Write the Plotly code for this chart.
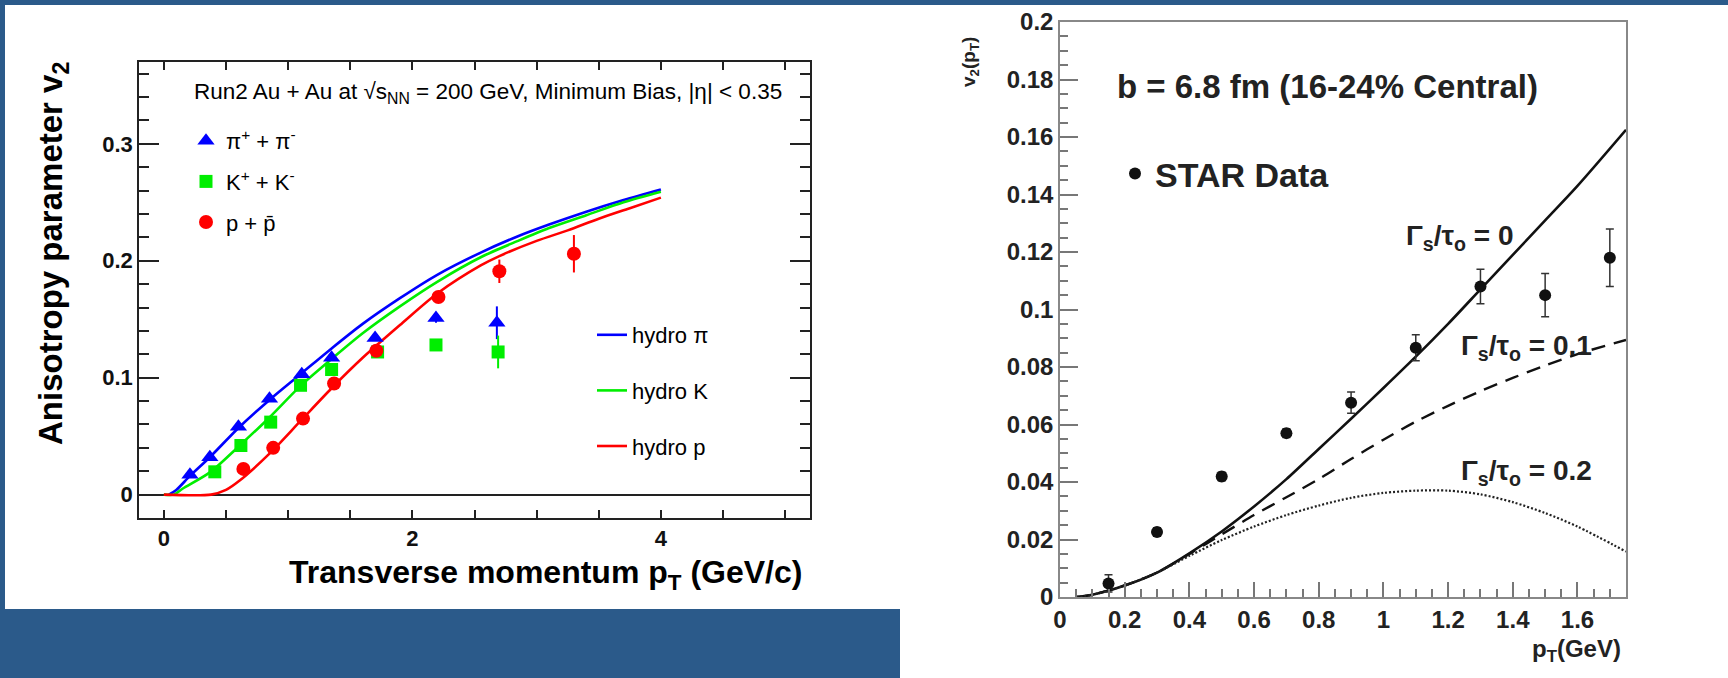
import plotly.graph_objects as go

W, H = 1728, 678
def px(x): return x / W
def py(y): return 1 - y / H

FONT = "Liberation Sans, Arial, Helvetica, sans-serif"

# ---------------- Left panel data (v2 vs pT, Run2 Au+Au) ----------------
pi_pt = [0.21, 0.37, 0.60, 0.85, 1.11, 1.35, 1.70, 2.19, 2.68]
pi_v2 = [0.017, 0.032, 0.058, 0.082, 0.103, 0.117, 0.134, 0.151, 0.147]
pi_err = [0.001, 0.001, 0.001, 0.001, 0.001, 0.002, 0.002, 0.004, 0.014]

k_pt = [0.41, 0.62, 0.86, 1.10, 1.35, 1.72, 2.19, 2.69]
k_v2 = [0.0195, 0.042, 0.062, 0.0935, 0.107, 0.122, 0.128, 0.122]
k_err = [0.001, 0.001, 0.001, 0.002, 0.002, 0.003, 0.004, 0.014]

p_pt = [0.64, 0.88, 1.12, 1.37, 1.71, 2.21, 2.70, 3.30]
p_v2 = [0.022, 0.040, 0.065, 0.095, 0.123, 0.169, 0.191, 0.206]
p_err = [0.001, 0.001, 0.002, 0.002, 0.003, 0.005, 0.010, 0.016]

hydro_pi_pt = [0.04, 0.10, 0.21, 0.37, 0.60, 0.85, 1.10, 1.35, 1.60, 1.90, 2.20, 2.55, 2.85, 3.10, 3.40, 3.70, 4.00]
hydro_pi_v2 = [0.0, 0.004, 0.016, 0.032, 0.057, 0.081, 0.103, 0.125, 0.146, 0.168, 0.188, 0.207, 0.221, 0.231, 0.242, 0.252, 0.261]

hydro_k_pt = [0.0, 0.08, 0.15, 0.37, 0.60, 0.85, 1.10, 1.35, 1.60, 1.90, 2.20, 2.55, 2.85, 3.10, 3.40, 3.70, 4.00]
hydro_k_v2 = [0.0, 0.0, 0.005, 0.019, 0.041, 0.066, 0.093, 0.116, 0.138, 0.161, 0.182, 0.203, 0.217, 0.228, 0.239, 0.250, 0.259]

hydro_p_pt = [0.0, 0.38, 0.50, 0.61, 0.85, 1.10, 1.35, 1.60, 1.90, 2.20, 2.55, 2.70, 3.00, 3.25, 3.50, 3.75, 4.00]
hydro_p_v2 = [0.0, 0.0, 0.004, 0.012, 0.035, 0.063, 0.091, 0.117, 0.145, 0.172, 0.196, 0.204, 0.217, 0.226, 0.236, 0.245, 0.254]

left_xticks = [0, 0.5, 1, 1.5, 2, 2.5, 3, 3.5, 4, 4.5, 5]
left_xlabels = ["0", "", "", "", "2", "", "", "", "4", "", ""]
left_yticks = [0, 0.1, 0.2, 0.3]
left_ylabels = ["0", "0.1", "0.2", "0.3"]

# ---------------- Right panel data (STAR, b = 6.8 fm) ----------------
star_pt = [0.15, 0.30, 0.50, 0.70, 0.90, 1.10, 1.30, 1.50, 1.70]
star_v2 = [0.0047, 0.0226, 0.0419, 0.057, 0.0676, 0.0867, 0.108, 0.105, 0.118]
star_err = [0.003, 0.0015, 0.0015, 0.0015, 0.0037, 0.0045, 0.006, 0.0075, 0.010]

curve_pt = [0.05, 0.10, 0.20, 0.30, 0.40, 0.50, 0.60, 0.70, 0.80, 0.90, 1.00, 1.10, 1.20, 1.30, 1.40, 1.50, 1.60, 1.75]
v2_g0 = [0.0, 0.0008, 0.004, 0.0085, 0.0152, 0.0228, 0.0315, 0.041, 0.0515, 0.062, 0.0727, 0.0836, 0.095, 0.107, 0.119, 0.131, 0.143, 0.1625]
v2_g01 = [0.0, 0.0008, 0.004, 0.0085, 0.015, 0.0218, 0.0285, 0.0347, 0.041, 0.048, 0.0547, 0.061, 0.0665, 0.0716, 0.0762, 0.0805, 0.0845, 0.0894]
v2_g02 = [0.0, 0.0008, 0.004, 0.0085, 0.0143, 0.0198, 0.0245, 0.0285, 0.0318, 0.0345, 0.0362, 0.037, 0.037, 0.0357, 0.033, 0.0292, 0.0245, 0.0158]

right_xticks = [0, 0.2, 0.4, 0.6, 0.8, 1.0, 1.2, 1.4, 1.6]
right_xlabels = ["0", "0.2", "0.4", "0.6", "0.8", "1", "1.2", "1.4", "1.6"]
right_yticks = [0, 0.02, 0.04, 0.06, 0.08, 0.10, 0.12, 0.14, 0.16, 0.18, 0.20]
right_ylabels = ["0", "0.02", "0.04", "0.06", "0.08", "0.1", "0.12", "0.14", "0.16", "0.18", "0.2"]

BLUE, GREEN, RED = "#0000ff", "#00ee00", "#ff0000"

def bold(labels):
    return ["<b>%s</b>" % t if t else "" for t in labels]

fig = go.Figure()

# hydro curves
for xs, ys, col, name in [(hydro_pi_pt, hydro_pi_v2, BLUE, "hydro π"),
                          (hydro_k_pt, hydro_k_v2, GREEN, "hydro K"),
                          (hydro_p_pt, hydro_p_v2, RED, "hydro p")]:
    fig.add_trace(go.Scatter(x=xs, y=ys, mode="lines", line=dict(color=col, width=2.6, shape="spline", smoothing=0.8),
                             name=name, legend="legend2", legendgroup=name, xaxis="x", yaxis="y"))

# data markers
for xs, ys, es, col, sym, sz, name in [
        (pi_pt, pi_v2, pi_err, BLUE, "triangle-up", 15, "π<sup>+</sup> + π<sup>-</sup>"),
        (k_pt, k_v2, k_err, GREEN, "square", 13, "K<sup>+</sup> + K<sup>-</sup>"),
        (p_pt, p_v2, p_err, RED, "circle", 14, "p + p\u0304")]:
    fig.add_trace(go.Scatter(x=xs, y=ys, mode="markers",
                             marker=dict(color=col, symbol=sym, size=sz, line=dict(width=0)),
                             error_y=dict(type="data", array=es, color=col, thickness=2, width=0),
                             name=name, legend="legend", legendgroup=name, xaxis="x", yaxis="y"))

# right panel curves
fig.add_trace(go.Scatter(x=curve_pt, y=v2_g0, mode="lines", line=dict(color="#111", width=2.6, shape="spline", smoothing=0.8),
                         showlegend=False, xaxis="x2", yaxis="y2"))
fig.add_trace(go.Scatter(x=curve_pt, y=v2_g01, mode="lines", line=dict(color="#111", width=2.4, dash="14px,9px", shape="spline", smoothing=0.8),
                         showlegend=False, xaxis="x2", yaxis="y2"))
fig.add_trace(go.Scatter(x=curve_pt, y=v2_g02, mode="lines", line=dict(color="#222", width=2.2, dash="2px,2px", shape="spline", smoothing=0.8),
                         showlegend=False, xaxis="x2", yaxis="y2"))
fig.add_trace(go.Scatter(x=star_pt, y=star_v2, mode="markers",
                         marker=dict(color="#111", size=12),
                         error_y=dict(type="data", array=star_err, color="#333", thickness=1.5, width=4),
                         name="<b>STAR Data</b>", legend="legend3", xaxis="x2", yaxis="y2"))

tickfont_l = dict(family=FONT, size=22, color="#111")
tickfont_r = dict(family=FONT, size=24, color="#222")

def ann(text, x, y, size, color="black", angle=0):
    return dict(text=text, x=px(x), y=py(y), xref="paper", yref="paper", showarrow=False,
                xanchor="center", yanchor="middle", textangle=angle,
                font=dict(family=FONT, size=size, color=color))

layout = dict(
    width=W, height=H, autosize=False,
    margin=dict(l=0, r=0, t=0, b=0, pad=0, autoexpand=False),
    paper_bgcolor="#2b5a8a", plot_bgcolor="white",
    font=dict(family=FONT, color="black"),
    hovermode=False,
    xaxis=dict(domain=[px(139), px(810)], range=[-0.2, 5.2], anchor="y", automargin=False,
               tickmode="array", tickvals=left_xticks, ticktext=bold(left_xlabels),
               ticks="inside", ticklen=8, tickwidth=1.5, tickcolor="#222",
               showline=True, linecolor="#222", linewidth=1.5, mirror="ticks",
               showgrid=False, zeroline=False, tickfont=tickfont_l, fixedrange=True),
    yaxis=dict(domain=[py(518), py(62)], range=[-0.02, 0.37], anchor="x", automargin=False,
               tickmode="array", tickvals=left_yticks, ticktext=bold(left_ylabels),
               ticks="inside", ticklen=20, tickwidth=1.5, tickcolor="#222",
               minor=dict(dtick=0.02, tick0=0, ticklen=10, tickwidth=1.5, tickcolor="#222", ticks="inside", showgrid=False),
               showline=True, linecolor="#222", linewidth=1.5, mirror="allticks",
               showgrid=False, zeroline=True, zerolinecolor="#222", zerolinewidth=1.5,
               tickfont=tickfont_l, fixedrange=True),
    xaxis2=dict(domain=[px(1060), px(1626)], range=[0, 1.75], anchor="y2", automargin=False,
                tickmode="array", tickvals=right_xticks, ticktext=bold(right_xlabels),
                ticks="inside", ticklen=15, tickwidth=1.5, tickcolor="#777",
                minor=dict(dtick=0.05, tick0=0, ticklen=8, tickwidth=1.5, tickcolor="#777", ticks="inside", showgrid=False),
                showline=True, linecolor="#888", linewidth=1.5, mirror=True,
                showgrid=False, zeroline=False, tickfont=tickfont_r, fixedrange=True),
    yaxis2=dict(domain=[py(597), py(22)], range=[0, 0.2], anchor="x2", automargin=False,
                tickmode="array", tickvals=right_yticks, ticktext=bold(right_ylabels),
                ticks="inside", ticklen=18, tickwidth=1.5, tickcolor="#777",
                minor=dict(dtick=0.005, tick0=0, ticklen=8, tickwidth=1.5, tickcolor="#777", ticks="inside", showgrid=False),
                showline=True, linecolor="#888", linewidth=1.5, mirror=True,
                showgrid=False, zeroline=False, tickfont=tickfont_r, fixedrange=True),
    legend=dict(x=px(186), y=py(120), xanchor="left", yanchor="top", bgcolor="rgba(0,0,0,0)",
                font=dict(family=FONT, size=22, color="black"), tracegroupgap=9, itemsizing="trace"),
    legend2=dict(x=px(592), y=py(314), xanchor="left", yanchor="top", bgcolor="rgba(0,0,0,0)",
                 font=dict(family=FONT, size=22, color="black"), tracegroupgap=24, itemwidth=30),
    legend3=dict(x=px(1115), y=py(145), xanchor="left", yanchor="top", bgcolor="rgba(0,0,0,0)",
                 font=dict(family=FONT, size=34, color="#222")),
    shapes=[
        dict(type="rect", xref="paper", yref="paper", x0=px(5), x1=1, y0=py(609), y1=py(5),
             fillcolor="white", line=dict(width=0), layer="below"),
        dict(type="rect", xref="paper", yref="paper", x0=px(900), x1=1, y0=0, y1=py(605),
             fillcolor="white", line=dict(width=0), layer="below"),
    ],
    annotations=[
        ann("Run2 Au + Au at √s<sub>NN</sub> = 200 GeV, Minimum Bias, |η| &lt; 0.35", 488, 93, 22.5),
        ann("<b>Anisotropy parameter v<sub>2</sub></b>", 53, 254, 33, angle=-90),
        ann("<b>Transverse momentum p<sub>T</sub> (GeV/c)</b>", 545, 574, 32),
        ann("<b>b = 6.8 fm (16-24% Central)</b>", 1327, 87, 33, "#222"),
        ann("<b>Γ<sub>s</sub>/τ<sub>o</sub> = 0</b>", 1459, 238, 28, "#222"),
        ann("<b>Γ<sub>s</sub>/τ<sub>o</sub> = 0.1</b>", 1526, 347, 28, "#222"),
        ann("<b>Γ<sub>s</sub>/τ<sub>o</sub> = 0.2</b>", 1526, 472, 28, "#222"),
        ann("<b>v<sub>2</sub>(p<sub>T</sub>)</b>", 970, 62, 19, "#222", angle=-90),
        ann("<b>p<sub>T</sub>(GeV)</b>", 1576, 650, 24, "#222"),
    ],
)
fig.update_layout(**layout)
fig.write_html("out.html", config={"displayModeBar": False},
               post_script="document.body.style.margin='0px';")
